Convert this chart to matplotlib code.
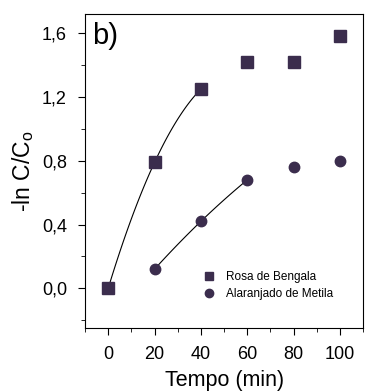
import numpy as np
import matplotlib
matplotlib.use('Agg')
import matplotlib.pyplot as plt
from matplotlib.ticker import MultipleLocator, FuncFormatter

plt.rcParams['font.family'] = ['Liberation Sans', 'DejaVu Sans']

# data
t_rosa = [0, 20, 40, 60, 80, 100]
y_rosa = [0.0, 0.79, 1.25, 1.42, 1.42, 1.58]
t_metila = [20, 40, 60, 80, 100]
y_metila = [0.12, 0.42, 0.68, 0.76, 0.80]

col = '#3b2d4d'

fig = plt.figure(figsize=(3.65, 3.92), dpi=100)
ax = fig.add_axes([0.233, 0.163, 0.762, 0.801])

# fitted curves over the initial points
p1 = np.polyfit(t_rosa[:3], y_rosa[:3], 2)
xx1 = np.linspace(t_rosa[0], t_rosa[2], 50)
ax.plot(xx1, np.polyval(p1, xx1), color='black', lw=0.8)
p2 = np.polyfit(t_metila[:3], y_metila[:3], 2)
xx2 = np.linspace(t_metila[0], t_metila[2], 50)
ax.plot(xx2, np.polyval(p2, xx2), color='black', lw=0.8)

ax.plot(t_rosa, y_rosa, 's', color=col, ms=8, ls='none', label='Rosa de Bengala')
ax.plot(t_metila, y_metila, 'o', color=col, ms=7.5, ls='none', label='Alaranjado de Metila')

ax.set_xlim(-10, 110)
ax.set_ylim(-0.25, 1.72)
ax.xaxis.set_major_locator(MultipleLocator(20))
ax.xaxis.set_minor_locator(MultipleLocator(10))
ax.yaxis.set_major_locator(MultipleLocator(0.4))
ax.yaxis.set_minor_locator(MultipleLocator(0.2))
ax.yaxis.set_major_formatter(FuncFormatter(lambda v, p: ('%.1f' % v).replace('.', ',')))
ax.tick_params(which='major', direction='out', length=5, labelsize=13, pad=8)
ax.tick_params(which='minor', direction='out', length=3)

ax.set_xlabel('Tempo (min)', fontsize=15.5, labelpad=5)
ax.set_ylabel('-ln C/C$_\\mathregular{o}$', fontsize=16.5, labelpad=4)
ax.text(0.025, 0.975, 'b)', transform=ax.transAxes, fontsize=21, va='top', ha='left')

leg = ax.legend(loc='lower right', bbox_to_anchor=(0.93, 0.055), frameon=False,
                fontsize=8.5, handletextpad=0.4, markerscale=0.8, labelspacing=0.45)

fig.savefig('out.png', dpi=100)
